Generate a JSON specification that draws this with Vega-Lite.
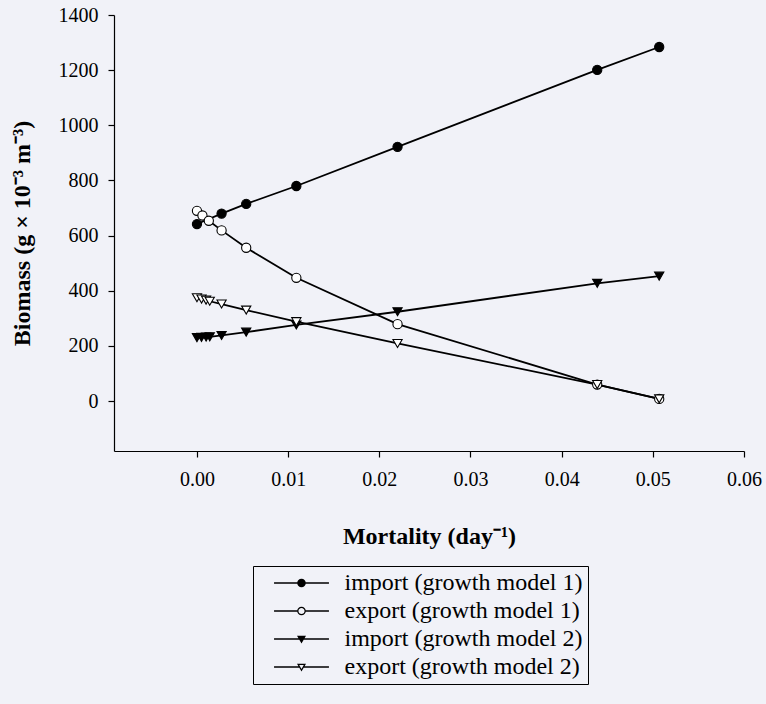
{
  "$schema": "https://vega.github.io/schema/vega-lite/v6.json",
  "width": 630,
  "height": 436,
  "autosize": {"type": "none"},
  "padding": {"left": 114, "top": 15, "right": 22, "bottom": 253},
  "background": "#f1f2f8",
  "config": {
    "view": {"stroke": null},
    "axis": {
      "grid": false,
      "domainColor": "black",
      "domainWidth": 1.2,
      "tickColor": "black",
      "tickWidth": 1.2,
      "tickSize": 6,
      "labelFont": "Liberation Serif",
      "labelFontSize": 20,
      "labelColor": "black",
      "labelFlush": false,
      "titleFont": "Liberation Serif",
      "titleFontSize": 24,
      "titleFontWeight": "bold",
      "titleColor": "black"
    }
  },
  "data": {
    "values": [
      {"s": "import (growth model 1)", "x": 0, "y": 642},
      {"s": "import (growth model 1)", "x": 0.0027, "y": 680},
      {"s": "import (growth model 1)", "x": 0.0054, "y": 715},
      {"s": "import (growth model 1)", "x": 0.0109, "y": 780},
      {"s": "import (growth model 1)", "x": 0.022, "y": 922},
      {"s": "import (growth model 1)", "x": 0.0439, "y": 1201},
      {"s": "import (growth model 1)", "x": 0.0507, "y": 1284},
      {"s": "export (growth model 1)", "x": 0, "y": 690},
      {"s": "export (growth model 1)", "x": 0.0006, "y": 673},
      {"s": "export (growth model 1)", "x": 0.0013, "y": 654},
      {"s": "export (growth model 1)", "x": 0.0027, "y": 619},
      {"s": "export (growth model 1)", "x": 0.0054, "y": 556},
      {"s": "export (growth model 1)", "x": 0.0109, "y": 447},
      {"s": "export (growth model 1)", "x": 0.022, "y": 279},
      {"s": "export (growth model 1)", "x": 0.0439, "y": 60},
      {"s": "export (growth model 1)", "x": 0.0507, "y": 8},
      {"s": "import (growth model 2)", "x": 0, "y": 230},
      {"s": "import (growth model 2)", "x": 0.0005, "y": 231},
      {"s": "import (growth model 2)", "x": 0.001, "y": 232},
      {"s": "import (growth model 2)", "x": 0.0014, "y": 233},
      {"s": "import (growth model 2)", "x": 0.0027, "y": 238},
      {"s": "import (growth model 2)", "x": 0.0054, "y": 250},
      {"s": "import (growth model 2)", "x": 0.0109, "y": 276},
      {"s": "import (growth model 2)", "x": 0.022, "y": 324},
      {"s": "import (growth model 2)", "x": 0.0439, "y": 427},
      {"s": "import (growth model 2)", "x": 0.0507, "y": 453},
      {"s": "export (growth model 2)", "x": 0, "y": 375},
      {"s": "export (growth model 2)", "x": 0.0005, "y": 370},
      {"s": "export (growth model 2)", "x": 0.001, "y": 366},
      {"s": "export (growth model 2)", "x": 0.0014, "y": 362},
      {"s": "export (growth model 2)", "x": 0.0027, "y": 352},
      {"s": "export (growth model 2)", "x": 0.0054, "y": 330},
      {"s": "export (growth model 2)", "x": 0.0109, "y": 288},
      {"s": "export (growth model 2)", "x": 0.022, "y": 209},
      {"s": "export (growth model 2)", "x": 0.0439, "y": 60},
      {"s": "export (growth model 2)", "x": 0.0507, "y": 8}
    ]
  },
  "encoding": {
    "x": {
      "field": "x",
      "type": "quantitative",
      "scale": {"domain": [-0.0091, 0.06], "nice": false, "zero": false},
      "axis": {
        "values": [0, 0.01, 0.02, 0.03, 0.04, 0.05, 0.06],
        "format": ".2f",
        "title": "Mortality (day⁻¹)",
        "labelPadding": 12,
        "titlePadding": 35
      }
    },
    "y": {
      "field": "y",
      "type": "quantitative",
      "scale": {"domain": [-181, 1400], "nice": false, "zero": false},
      "axis": {
        "values": [0, 200, 400, 600, 800, 1000, 1200, 1400],
        "format": "d",
        "title": "Biomass (g × 10⁻³ m⁻³)",
        "labelPadding": 10,
        "titlePadding": 24
      }
    }
  },
  "layer": [
    {
      "mark": {"type": "line", "color": "black", "strokeWidth": 1.8},
      "encoding": {"detail": {"field": "s"}}
    },
    {
      "mark": {"type": "point", "filled": true, "stroke": "black", "strokeWidth": 1.1, "opacity": 1},
      "encoding": {
        "shape": {
          "field": "s",
          "scale": {
            "domain": ["import (growth model 1)", "export (growth model 1)", "import (growth model 2)", "export (growth model 2)"],
            "range": ["circle", "circle", "triangle-down", "triangle-down"]
          },
          "legend": null
        },
        "fill": {
          "field": "s",
          "scale": {
            "domain": ["import (growth model 1)", "export (growth model 1)", "import (growth model 2)", "export (growth model 2)"],
            "range": ["black", "white", "black", "white"]
          },
          "legend": null
        },
        "size": {
          "field": "s",
          "scale": {
            "domain": ["import (growth model 1)", "export (growth model 1)", "import (growth model 2)", "export (growth model 2)"],
            "range": [85, 85, 100, 100]
          },
          "legend": null
        }
      }
    },
    {
      "transform": [{"filter": "false"}],
      "mark": {"type": "point", "filled": true, "fill": "black", "strokeWidth": 0, "size": 81, "opacity": 1},
      "encoding": {
        "shape": {
          "field": "s",
          "scale": {
            "domain": ["import (growth model 1)", "export (growth model 1)", "import (growth model 2)", "export (growth model 2)"],
            "range": [
              "M-6.1,-0.17L6.1,-0.17L6.1,0.17L-6.1,0.17ZM0.95,0A0.95,0.95,0,1,1,-0.95,0A0.95,0.95,0,1,1,0.95,0Z",
              "M-6.1,-0.17L-0.8,-0.17L-0.8,0.17L-6.1,0.17ZM0.8,-0.17L6.1,-0.17L6.1,0.17L0.8,0.17ZM0.95,0A0.95,0.95,0,1,1,-0.95,0A0.95,0.95,0,1,1,0.95,0ZM0.68,0A0.68,0.68,0,1,0,-0.68,0A0.68,0.68,0,1,0,0.68,0Z",
              "M-6.1,-0.17L6.1,-0.17L6.1,0.17L-6.1,0.17ZM-1,-0.7L1,-0.7L0,1Z",
              "M-6.1,-0.17L-0.5,-0.17L-0.5,0.17L-6.1,0.17ZM0.5,-0.17L6.1,-0.17L6.1,0.17L0.5,0.17ZM-1,-0.7L1,-0.7L0,1ZM-0.51,-0.42L0,0.447L0.51,-0.42Z"
            ]
          },
          "legend": {
            "title": null,
            "orient": "none",
            "legendX": 139,
            "legendY": 551,
            "padding": 5,
            "strokeColor": "black",
            "labelFont": "Liberation Serif",
            "labelFontSize": 24,
            "labelColor": "black",
            "labelLimit": 400,
            "rowPadding": 4,
            "symbolOffset": 31.5,
            "labelOffset": 31,
            "symbolSize": 81,
            "symbolFillColor": "black",
            "symbolStrokeWidth": 0
          }
        }
      }
    }
  ],
  "resolve": {"scale": {"shape": "independent", "fill": "independent", "size": "independent"}}
}
